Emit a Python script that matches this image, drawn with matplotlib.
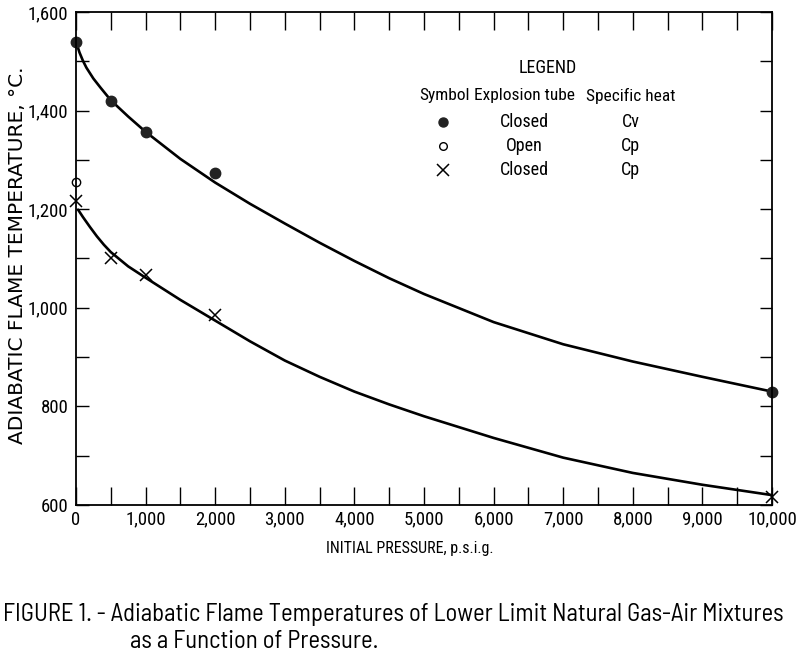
import matplotlib
matplotlib.use('Agg')
import matplotlib.pyplot as plt
from matplotlib.ticker import MultipleLocator, FuncFormatter

NARROW = ['Roboto Condensed', 'DejaVu Sans']
CAPTION = ['Barlow Semi Condensed', 'Barlow Condensed', 'DejaVu Sans']
plt.rcParams['font.family'] = NARROW

# measured points
cv_closed_p = [0, 500, 1000, 2000, 10000]
cv_closed_t = [1540, 1420, 1357, 1274, 830]
cp_open_p = [0]
cp_open_t = [1255]
cp_closed_p = [0, 500, 1000, 2000, 10000]
cp_closed_t = [1216, 1102, 1066, 985, 617]

# faired curves
upper_p = [0, 50, 100, 150, 200, 250, 350, 500, 750, 1000, 1500, 2000, 2500,
           3000, 3500, 4000, 4500, 5000, 6000, 7000, 8000, 9000, 10000]
upper_t = [1540, 1518, 1501, 1487, 1476, 1465, 1447, 1421, 1388, 1357, 1302,
           1254, 1211, 1171, 1132, 1095, 1060, 1028, 971, 926, 891, 860, 830]
lower_p = [30, 100, 200, 300, 400, 500, 750, 1000, 1500, 2000, 2500, 3000,
           3500, 4000, 4500, 5000, 6000, 7000, 8000, 9000, 10000]
lower_t = [1199, 1184, 1164, 1145, 1128, 1113, 1084, 1061, 1016, 974, 932,
           893, 860, 830, 804, 780, 736, 696, 665, 641, 620]

# legend table
leg_heads = ['Symbol', 'Explosion tube', 'Specific heat']
leg_tube = ['Closed', 'Open', 'Closed']
leg_heat = ['Cv', 'Cp', 'Cp']

fig = plt.figure(figsize=(8, 6.57), dpi=100)
ax = fig.add_axes([0.095, 0.2314, 0.87, 0.7503])

ax.plot(upper_p, upper_t, color='black', lw=1.9, solid_capstyle='round')
ax.plot(lower_p, lower_t, color='black', lw=1.9, solid_capstyle='round')
ax.plot(cv_closed_p, cv_closed_t, 'o', color='#222222', ms=7.5, clip_on=False)
ax.plot(cp_open_p, cp_open_t, 'o', mfc='white', mec='black', mew=1.0, ms=6,
        clip_on=False)
ax.plot(cp_closed_p, cp_closed_t, 'x', color='black', mew=1.1, ms=8,
        clip_on=False)

ax.set_xlim(0, 10000)
ax.set_ylim(600, 1600)
ax.xaxis.set_major_locator(MultipleLocator(1000))
ax.xaxis.set_minor_locator(MultipleLocator(500))
ax.yaxis.set_major_locator(MultipleLocator(200))
ax.yaxis.set_minor_locator(MultipleLocator(100))
fmt = FuncFormatter(lambda v, pos: '{:,.0f}'.format(v))
ax.xaxis.set_major_formatter(fmt)
ax.yaxis.set_major_formatter(fmt)
ax.tick_params(axis='both', which='both', direction='in', top=True,
               right=True, width=1.0, labelsize=13.5)
ax.tick_params(axis='x', which='both', length=13, pad=4)
ax.tick_params(axis='y', which='both', length=9, pad=5.5)
for sp in ax.spines.values():
    sp.set_linewidth(1.3)

fig.text(410 / 800, 1 - 548 / 657, 'INITIAL PRESSURE, p.s.i.g.',
         fontsize=11.5, ha='center', va='center')
fig.text(18 / 800, 1 - 255 / 657, 'ADIABATIC FLAME TEMPERATURE, °C.',
         fontsize=14.5, rotation=90, ha='center', va='center',
         family=['DejaVu Sans'])

ax.text(6777, 1486, 'LEGEND', ha='center', va='center', fontsize=13)
for px, head in zip([5295, 6446, 7971], leg_heads):
    ax.text(px, 1430, head, ha='center', va='center', fontsize=12.5)
rows_y = [1377, 1328, 1280]
ax.plot([5280], [rows_y[0]], 'o', color='#222222', ms=6.5)
ax.plot([5280], [rows_y[1]], 'o', mfc='white', mec='black', mew=1.0, ms=5.5)
ax.plot([5280], [rows_y[2]], 'x', color='black', mew=1.1, ms=8.5)
for y, tube, heat in zip(rows_y, leg_tube, leg_heat):
    ax.text(6446, y, tube, ha='center', va='center', fontsize=13)
    ax.text(7971, y, heat, ha='center', va='center', fontsize=13)

fig.text(3 / 800, 1 - 614 / 657,
         'FIGURE 1. - Adiabatic Flame Temperatures of Lower Limit Natural Gas-Air Mixtures',
         fontsize=17.8, ha='left', va='center', family=CAPTION)
fig.text(130 / 800, 1 - 641 / 657, 'as a Function of Pressure.',
         fontsize=17.8, ha='left', va='center', family=CAPTION)

fig.savefig('out.png', dpi=100)
